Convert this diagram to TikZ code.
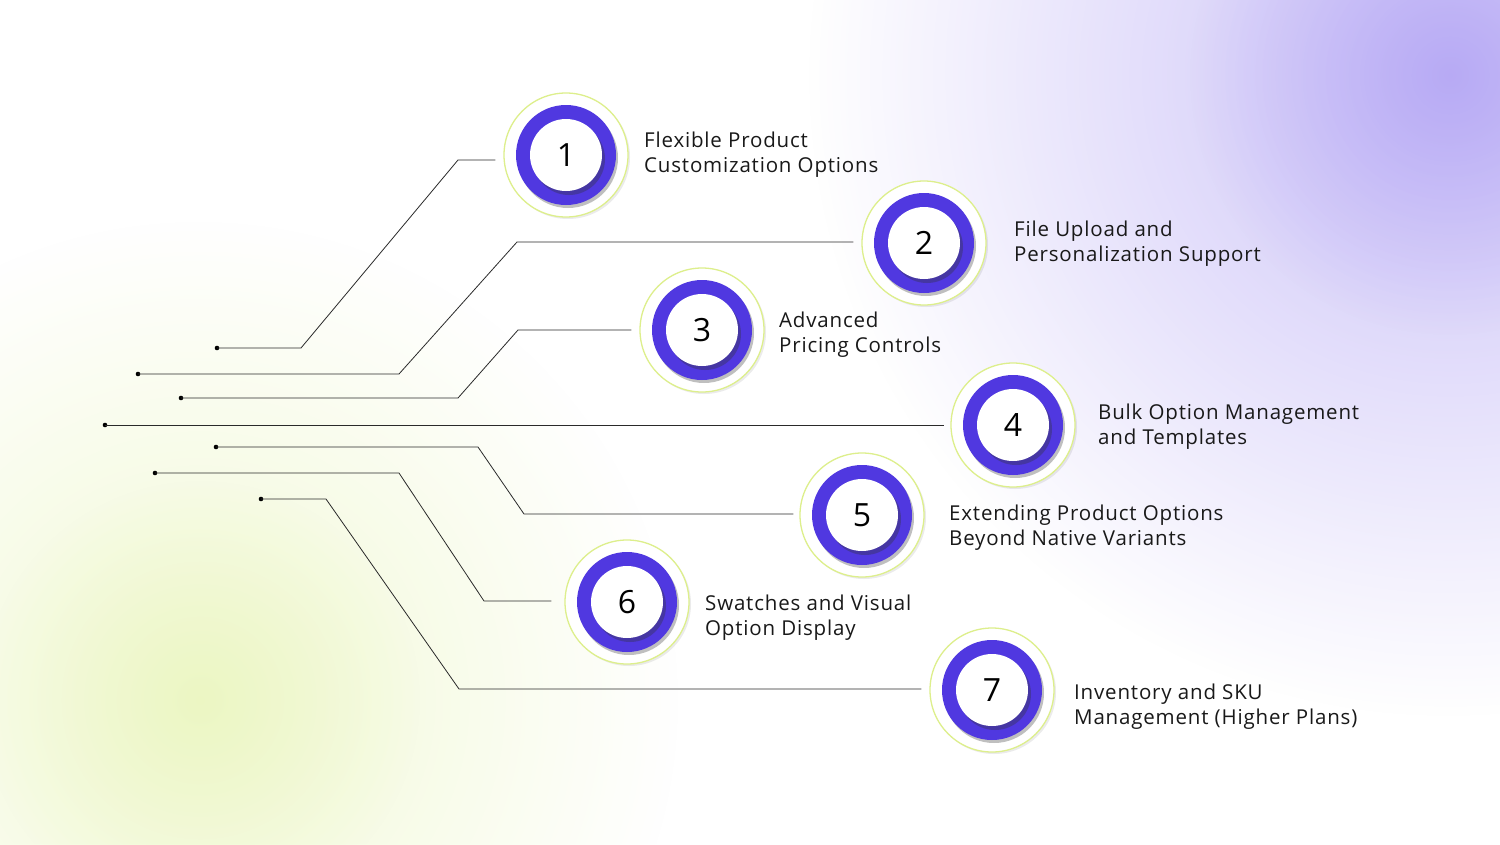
\documentclass[tikz,border=0pt]{standalone}
\usepackage{fontspec}
\setmainfont{Open Sans}[LetterSpace=4]
\usetikzlibrary{fadings,shadows}
\tikzfading[name=softfade, inner color=transparent!0, outer color=transparent!100]
\definecolor{ringgreen}{HTML}{DDEF8C}
\definecolor{violetring}{HTML}{5038E0}
\definecolor{glowpurple}{HTML}{A898F3}
\definecolor{glowgreen}{HTML}{E6F4B0}
\definecolor{linegray}{HTML}{2A2A2A}
\begin{document}
\begin{tikzpicture}[x=1pt,y=-1pt,
  outerring/.style={circle, draw=ringgreen, line width=1.3pt, fill=white, minimum size=124pt, inner sep=0pt,
    drop shadow={shadow xshift=2pt, shadow yshift=-2pt, opacity=0.08, fill=black}},
  purplering/.style={circle, fill=violetring, minimum size=100pt, inner sep=0pt,
    drop shadow={shadow xshift=2pt, shadow yshift=-3pt, opacity=0.25, fill=black}},
  innerdisk/.style={circle, fill=white, minimum size=72pt, inner sep=0pt,
    font=\fontsize{32}{38}\selectfont\addfontfeature{LetterSpace=0},
    drop shadow={shadow xshift=3pt, shadow yshift=-4pt, opacity=0.35, fill=black!80}},
  label/.style={anchor=west, align=left, inner sep=0pt, font=\fontsize{20.5}{25}\selectfont, text=black!90},
  conn/.style={draw=linegray, line width=0.8pt},
  startdot/.style={fill=black}
]
\useasboundingbox (0,0) rectangle (1500,844);
% background
\fill[white] (0,0) rectangle (1500,844);
\begin{scope}
\clip (0,0) rectangle (1500,844);
\fill[glowgreen, opacity=0.55, path fading=softfade] (200,700) circle (480);
\fill[glowgreen, opacity=0.45, path fading=softfade] (200,700) circle (220);
\fill[glowpurple, opacity=0.6, path fading=softfade] (1450,75) circle (640);
\fill[glowpurple, opacity=0.55, path fading=softfade] (1450,75) circle (260);
\end{scope}

% circles
\foreach \i/\x/\y in {1/566/155, 2/924/243, 3/702/330, 4/1013/425, 5/862/515, 6/627/602, 7/992/690}{
  \node[outerring] (c\i) at (\x,\y) {};
  \node[purplering] (p\i) at (\x,\y) {};
  \node[innerdisk] (n\i) at (\x,\y) {\i};
}

% labels
\node[label] (t1) at (644,155) {Flexible Product\\Customization Options};
\node[label] (t2) at (1014,244) {File Upload and\\Personalization Support};
\node[label] (t3) at (779,335) {Advanced\\Pricing Controls};
\node[label] (t4) at (1098,427) {Bulk Option Management\\and Templates};
\node[label] (t5) at (949,528) {Extending Product Options\\Beyond Native Variants};
\node[label] (t6) at (705,618) {Swatches and Visual\\Option Display};
\node[label] (t7) at (1074,707) {Inventory and SKU\\Management (Higher Plans)};

% start dots
\coordinate (d1) at (217,348);
\coordinate (d2) at (138,374);
\coordinate (d3) at (181,398);
\coordinate (d4) at (105,425);
\coordinate (d5) at (216,447);
\coordinate (d6) at (155,473);
\coordinate (d7) at (261,499);
\foreach \i in {1,...,7}{\fill[startdot] (d\i) circle (2.3);}

% end points near circles
\coordinate (e1) at ([shift={(-8pt,-5pt)}]c1.west);
\coordinate (e2) at ([shift={(-8pt,1pt)}]c2.west);
\coordinate (e3) at ([shift={(-8pt,0pt)}]c3.west);
\coordinate (e4) at ([shift={(-6pt,0pt)}]c4.west);
\coordinate (e5) at ([shift={(-6pt,1pt)}]c5.west);
\coordinate (e6) at ([shift={(-13pt,1pt)}]c6.west);
\coordinate (e7) at ([shift={(-8pt,1pt)}]c7.west);

\draw[conn] (d1) -- (301,348) -- (458,160) -- (e1);
\draw[conn] (d2) -- (399,374) -- (517,242) -- (e2);
\draw[conn] (d3) -- (458,398) -- (518,330) -- (e3);
\draw[conn] (d4) -- (e4);
\draw[conn] (d5) -- (478,447) -- (524,514) -- (e5);
\draw[conn] (d6) -- (399,473) -- (484,601) -- (e6);
\draw[conn] (d7) -- (326,499) -- (459,689) -- (e7);
\end{tikzpicture}
\end{document}
